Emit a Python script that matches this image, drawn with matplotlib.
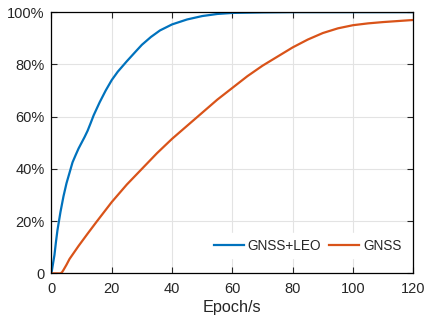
import numpy as np
import matplotlib.pyplot as plt
from matplotlib.ticker import FuncFormatter

# convergence percentage vs. epoch, two solutions
epoch_leo = [0, 0.5, 1, 1.5, 2, 3, 4, 5, 6, 7, 8, 9, 10, 11, 12, 13, 14, 15, 16,
             18, 20, 22, 25, 28, 30, 33, 36, 40, 45, 50, 55, 60, 70, 80, 90,
             100, 110, 120]
pct_leo = [0, 3.5, 7, 12, 16.5, 23.5, 29.5, 34.5, 38.5, 42.5, 45.2, 47.8, 50,
           52.2, 54.6, 57.5, 60.5, 63, 65.5, 70, 74, 77.2, 81.2, 85, 87.5,
           90.5, 93, 95.3, 97.2, 98.5, 99.3, 99.7, 99.9, 100, 100, 100, 100,
           100]

epoch_gnss = [0, 3, 3.5, 4, 5, 6, 9, 12, 15, 18, 20, 25, 30, 35, 40, 45, 50, 55,
              60, 65, 70, 75, 80, 85, 90, 95, 100, 105, 110, 115, 120]
pct_gnss = [0, 0, 0.4, 1.3, 3.3, 5.5, 10.5, 15.2, 19.8, 24.3, 27.3, 34, 40,
            46, 51.5, 56.5, 61.5, 66.5, 71, 75.5, 79.5, 83, 86.5, 89.5, 92,
            93.8, 95, 95.7, 96.2, 96.6, 97]

plt.rcParams['font.family'] = ['Liberation Sans', 'DejaVu Sans']
plt.rcParams['font.size'] = 10.5

fig = plt.figure(figsize=(4.26, 3.22), dpi=100)
ax = fig.add_axes([0.1207, 0.151, 0.8495, 0.8113])

ax.plot(epoch_leo, np.array(pct_leo) / 100, color='#0072BD', lw=1.6, label='GNSS+LEO')
ax.plot(epoch_gnss, np.array(pct_gnss) / 100, color='#D95319', lw=1.6, label='GNSS')

ax.set_xlim(0, 120)
ax.set_ylim(0, 1)
ax.set_xticks(np.arange(0, 121, 20))
ax.set_yticks(np.arange(0, 1.01, 0.2))
ax.yaxis.set_major_formatter(FuncFormatter(lambda v, p: '0' if v == 0 else '%d%%' % round(v * 100)))
ax.grid(True, color='#e3e3e3', lw=0.8)
ax.set_axisbelow(True)
ax.tick_params(direction='in', top=True, right=True, length=4, width=0.8,
               colors='#262626', labelcolor='#262626', labelsize=10.5)
ax.tick_params(axis='x', pad=6)
ax.tick_params(axis='y', pad=5)
for s in ax.spines.values():
    s.set_color('#000000')
    s.set_linewidth(0.9)

ax.set_xlabel('Epoch/s', color='#262626', labelpad=3, fontsize=11.7)

leg = ax.legend(loc='lower right', bbox_to_anchor=(1.017, 0.012), ncol=2,
                frameon=True, fancybox=False, edgecolor='white', framealpha=1,
                fontsize=9.8, handlelength=2.2, handletextpad=0.3,
                columnspacing=0.6, borderaxespad=0.9, borderpad=0.4)
for t in leg.get_texts():
    t.set_color('#262626')

plt.savefig('out.png', dpi=100)
